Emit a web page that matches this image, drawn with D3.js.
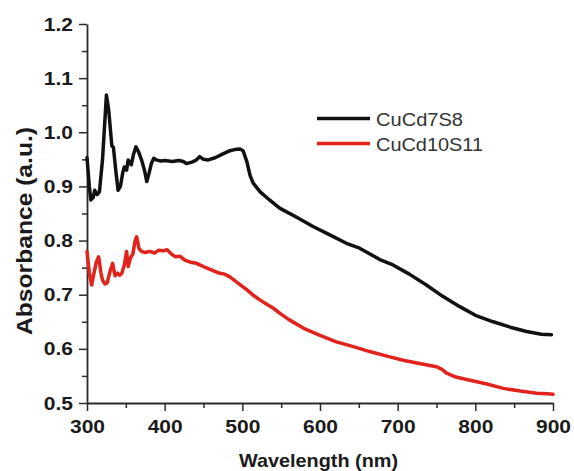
<!DOCTYPE html>
<html>
<head>
<meta charset="utf-8">
<script src="https://cdn.jsdelivr.net/npm/d3@7/dist/d3.min.js"></script>
<style>
  html, body { margin: 0; padding: 0; background: #ffffff; }
  svg { display: block; }
  text { font-family: "Liberation Sans", Arial, Helvetica, sans-serif; }
</style>
</head>
<body>
<svg id="chart" width="574" height="471"></svg>
<script>
// Absorbance spectra of two Cu–Cd–S samples
const seriesNames = ["CuCd7S8", "CuCd10S11"];
const seriesColors = ["#111111", "#e2231d"];

const wlCuCd7S8 = [300, 303, 305, 308, 310, 313, 316, 320, 325, 328, 332, 334, 337, 340, 343, 346, 348, 351, 353, 357,
  360, 363, 366, 370, 374, 377, 380, 383, 386, 389, 395, 400, 410, 418, 424, 428, 435, 440, 445, 450,
  456, 465, 475, 484, 490, 497, 501, 506, 510, 514, 523, 535, 548, 570, 591, 612, 634, 651, 677, 694,
  715, 737, 758, 780, 800, 823, 845, 866, 885, 898];
const absCuCd7S8 = [0.953, 0.900, 0.875, 0.880, 0.893, 0.885, 0.890, 0.950, 1.069, 1.040, 0.975, 0.972, 0.930, 0.893, 0.900, 0.925, 0.936, 0.930, 0.949, 0.940,
  0.960, 0.973, 0.965, 0.950, 0.930, 0.909, 0.925, 0.943, 0.952, 0.949, 0.947, 0.948, 0.946, 0.948, 0.946, 0.942, 0.945, 0.948, 0.955, 0.950,
  0.949, 0.953, 0.960, 0.966, 0.968, 0.969, 0.966, 0.945, 0.920, 0.906, 0.890, 0.875, 0.860, 0.843, 0.826, 0.811, 0.795, 0.786, 0.765, 0.755,
  0.738, 0.718, 0.697, 0.678, 0.662, 0.650, 0.640, 0.632, 0.627, 0.626];

const wlCuCd10S11 = [300, 303, 306, 309, 312, 315, 318, 320, 323, 326, 330, 333, 336, 339, 342, 345, 348, 351, 353, 356,
  359, 362, 364, 367, 370, 375, 381, 387, 392, 398, 403, 408, 414, 420, 426, 433, 441, 450, 460, 470,
  477, 484, 494, 506, 515, 523, 532, 540, 548, 560, 579, 600, 621, 643, 664, 685, 707, 728, 750, 757,
  763, 775, 793, 815, 836, 858, 879, 893, 900];
const absCuCd10S11 = [0.780, 0.740, 0.718, 0.740, 0.760, 0.770, 0.740, 0.727, 0.720, 0.722, 0.745, 0.758, 0.735, 0.740, 0.736, 0.740, 0.755, 0.780, 0.752, 0.768,
  0.775, 0.800, 0.807, 0.785, 0.780, 0.778, 0.780, 0.777, 0.782, 0.781, 0.783, 0.776, 0.770, 0.771, 0.764, 0.760, 0.758, 0.752, 0.746, 0.740,
  0.738, 0.733, 0.722, 0.709, 0.698, 0.690, 0.682, 0.675, 0.666, 0.654, 0.638, 0.625, 0.613, 0.604, 0.595, 0.587, 0.579, 0.573, 0.567, 0.562,
  0.555, 0.548, 0.542, 0.535, 0.527, 0.522, 0.518, 0.517, 0.516];

const xTicks = [300, 400, 500, 600, 700, 800, 900];
const xMinorTicks = [350, 450, 550, 650, 750, 850];
const yTicks = [0.5, 0.6, 0.7, 0.8, 0.9, 1.0, 1.1, 1.2];
const yMinorTicks = [0.55, 0.65, 0.75, 0.85, 0.95, 1.05, 1.15];

const svg = d3.select("#chart");
const plotLeft = 87, plotRight = 553, plotTop = 24, plotBottom = 403;

const x = d3.scaleLinear().domain([300, 900]).range([plotLeft, plotRight]);
const y = d3.scaleLinear().domain([0.5, 1.2]).range([plotBottom, plotTop]);

const axisColor = "#2b2b2b";
const labelColor = "#1a1a1a";

// minor ticks
const gxMinor = svg.append("g").attr("transform", `translate(0,${plotBottom})`)
  .call(d3.axisBottom(x).tickValues(xMinorTicks).tickSize(5).tickFormat(""));
const gyMinor = svg.append("g").attr("transform", `translate(${plotLeft},0)`)
  .call(d3.axisLeft(y).tickValues(yMinorTicks).tickSize(5).tickFormat(""));
[gxMinor, gyMinor].forEach(g => {
  g.select(".domain").remove();
  g.selectAll("line").attr("stroke", axisColor).attr("stroke-width", 1.5);
});

// major axes
const gx = svg.append("g").attr("transform", `translate(0,${plotBottom})`)
  .call(d3.axisBottom(x).tickValues(xTicks).tickSize(8).tickSizeOuter(0).tickFormat(d3.format("d")));
const gy = svg.append("g").attr("transform", `translate(${plotLeft},0)`)
  .call(d3.axisLeft(y).tickValues(yTicks).tickSize(8).tickSizeOuter(0).tickFormat(d3.format(".1f")));

[gx, gy].forEach(g => {
  g.select(".domain").attr("stroke", axisColor).attr("stroke-width", 1.8);
  g.selectAll(".tick line").attr("stroke", axisColor).attr("stroke-width", 1.5);
  g.selectAll(".tick text")
    .attr("fill", labelColor)
    .attr("font-size", 17.5)
    .attr("font-weight", "bold");
});
gx.selectAll(".tick text").attr("y", 30.5).attr("dy", 0).attr("transform", "scale(1.2,1)");
gy.selectAll(".tick text").attr("x", -14 / 1.2).attr("dy", "0.35em").attr("transform", "scale(1.2,1)");

// axis titles
svg.append("text")
  .attr("x", 318.5).attr("y", 467)
  .attr("text-anchor", "middle")
  .attr("font-size", 19).attr("font-weight", "bold")
  .attr("fill", labelColor)
  .attr("textLength", 159).attr("lengthAdjust", "spacingAndGlyphs")
  .text("Wavelength (nm)");

svg.append("text")
  .attr("transform", "translate(31.5,231) rotate(-90)")
  .attr("text-anchor", "middle")
  .attr("font-size", 22).attr("font-weight", "bold")
  .attr("fill", labelColor)
  .attr("textLength", 208).attr("lengthAdjust", "spacingAndGlyphs")
  .text("Absorbance (a.u.)");

// spectra
const line = d3.line().x(d => x(d[0])).y(d => y(d[1])).curve(d3.curveLinear);
const series = [
  d3.zip(wlCuCd7S8, absCuCd7S8),
  d3.zip(wlCuCd10S11, absCuCd10S11)
];
series.forEach((pts, i) => {
  svg.append("path")
    .datum(pts)
    .attr("fill", "none")
    .attr("stroke", seriesColors[i])
    .attr("stroke-width", 3.5)
    .attr("stroke-linejoin", "round")
    .attr("stroke-linecap", "round")
    .attr("d", line);
});

// legend
const legendY = [118.5, 143.5];
const legendWidths = [87, 107];
seriesNames.forEach((name, i) => {
  svg.append("line")
    .attr("x1", 317).attr("x2", 370)
    .attr("y1", legendY[i]).attr("y2", legendY[i])
    .attr("stroke", seriesColors[i]).attr("stroke-width", 3.5);
  svg.append("text")
    .attr("x", 376).attr("y", legendY[i] + 7)
    .attr("font-size", 18)
    .attr("fill", "#333333")
    .attr("textLength", legendWidths[i]).attr("lengthAdjust", "spacingAndGlyphs")
    .text(name);
});
</script>
</body>
</html>
